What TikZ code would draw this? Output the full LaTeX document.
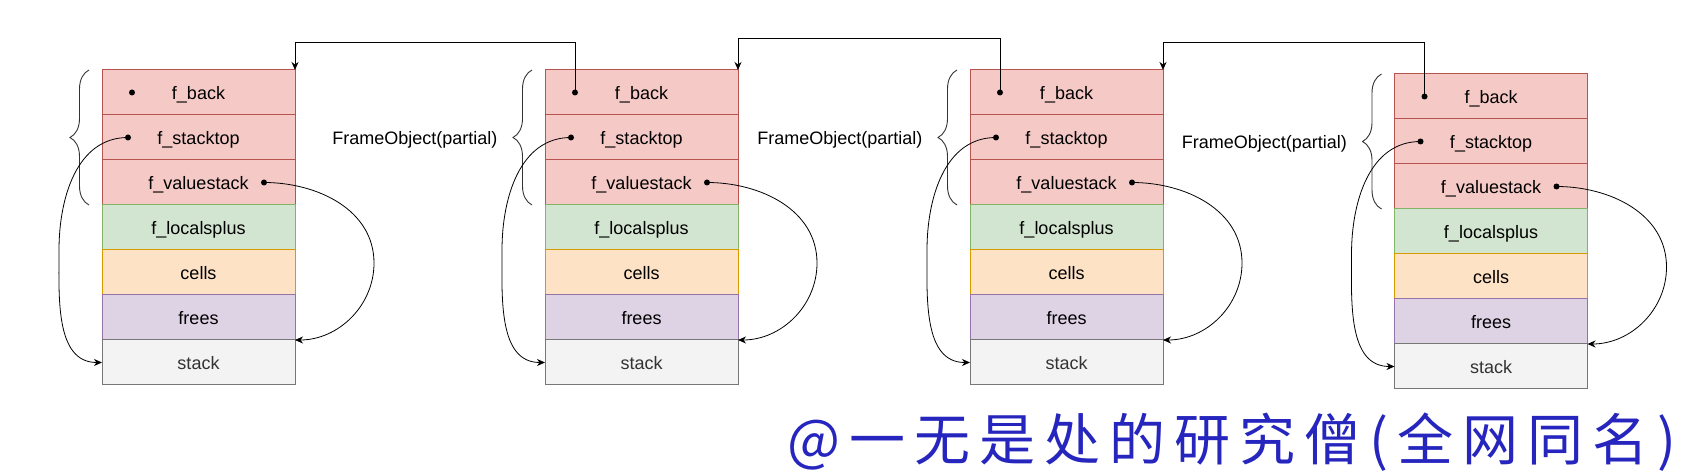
\documentclass[tikz,border=0pt]{standalone}
\usepackage{fontspec}
\setmainfont{Liberation Sans}
\newfontfamily\cjkfont{Noto Sans CJK SC}[LetterSpace=16]
\usepackage{tikz}
\usetikzlibrary{arrows.meta,positioning,decorations.pathreplacing}
\definecolor{redfill}{HTML}{F5C9C6}
\definecolor{redline}{HTML}{B85450}
\definecolor{greenfill}{HTML}{D2E5D0}
\definecolor{greenline}{HTML}{82B366}
\definecolor{orangefill}{HTML}{FDE2C6}
\definecolor{orangeline}{HTML}{D79B00}
\definecolor{purplefill}{HTML}{DED2E5}
\definecolor{purpleline}{HTML}{9673A6}
\definecolor{grayfill}{HTML}{F3F3F3}
\definecolor{grayline}{HTML}{777777}
\definecolor{graytext}{HTML}{333333}
\definecolor{signblue}{RGB}{38,38,190}

\begin{document}
\begin{tikzpicture}[
    x=1pt, y=1pt,
    font=\fontsize{18}{21}\selectfont,
    field/.style={rectangle, line width=1pt, minimum width=193pt,
        minimum height=45pt, inner sep=0pt, outer sep=0pt,
        text height=13.5pt, text depth=0pt},
    redrow/.style={field, fill=redfill, draw=redline},
    greenrow/.style={field, fill=greenfill, draw=greenline},
    orangerow/.style={field, fill=orangefill, draw=orangeline},
    purplerow/.style={field, fill=purplefill, draw=purpleline},
    grayrow/.style={field, fill=grayfill, draw=grayline, text=graytext},
    partlabel/.style={anchor=east, text height=13.5pt, text depth=0pt},
    dot/.style={circle, fill=black, inner sep=0pt, minimum size=6pt},
    ptr/.style={-{Stealth[length=8pt, width=7pt, inset=2.5pt]}, line width=1pt},
    curvedptr/.style={ptr, line width=0.8pt},
    brc/.style={decorate, decoration={brace, amplitude=19pt}, draw=black!80, line width=0.9pt}
]
\useasboundingbox (0,0) rectangle (1691,476);

% frame 1
\node[redrow] (f1back) at (198.5,383.5) {f\_back};
\node[redrow, below=0pt of f1back] (f1top) {f\_stacktop};
\node[redrow, below=0pt of f1top] (f1val) {f\_valuestack};
\node[greenrow, below=0pt of f1val] (f1loc) {f\_localsplus};
\node[orangerow, below=0pt of f1loc] (f1cells) {cells};
\node[purplerow, below=0pt of f1cells] (f1frees) {frees};
\node[grayrow, below=0pt of f1frees] (f1stack) {stack};

% frame 2
\node[redrow] (f2back) at (641.5,383.5) {f\_back};
\node[redrow, below=0pt of f2back] (f2top) {f\_stacktop};
\node[redrow, below=0pt of f2top] (f2val) {f\_valuestack};
\node[greenrow, below=0pt of f2val] (f2loc) {f\_localsplus};
\node[orangerow, below=0pt of f2loc] (f2cells) {cells};
\node[purplerow, below=0pt of f2cells] (f2frees) {frees};
\node[grayrow, below=0pt of f2frees] (f2stack) {stack};

% frame 3
\node[redrow] (f3back) at (1066.5,383.5) {f\_back};
\node[redrow, below=0pt of f3back] (f3top) {f\_stacktop};
\node[redrow, below=0pt of f3top] (f3val) {f\_valuestack};
\node[greenrow, below=0pt of f3val] (f3loc) {f\_localsplus};
\node[orangerow, below=0pt of f3loc] (f3cells) {cells};
\node[purplerow, below=0pt of f3cells] (f3frees) {frees};
\node[grayrow, below=0pt of f3frees] (f3stack) {stack};

% frame 4
\node[redrow] (f4back) at (1491,379.5) {f\_back};
\node[redrow, below=0pt of f4back] (f4top) {f\_stacktop};
\node[redrow, below=0pt of f4top] (f4val) {f\_valuestack};
\node[greenrow, below=0pt of f4val] (f4loc) {f\_localsplus};
\node[orangerow, below=0pt of f4loc] (f4cells) {cells};
\node[purplerow, below=0pt of f4cells] (f4frees) {frees};
\node[grayrow, below=0pt of f4frees] (f4stack) {stack};

% pointer dots
\node[dot] (d1back) at ([xshift=30]f1back.west) {};
\node[dot] (d1top) at ([xshift=26]f1top.west) {};
\node[dot] (d1val) at ([xshift=162]f1val.west) {};
\node[dot] (d2back) at ([xshift=30]f2back.west) {};
\node[dot] (d2top) at ([xshift=26]f2top.west) {};
\node[dot] (d2val) at ([xshift=162]f2val.west) {};
\node[dot] (d3back) at ([xshift=30]f3back.west) {};
\node[dot] (d3top) at ([xshift=26]f3top.west) {};
\node[dot] (d3val) at ([xshift=162]f3val.west) {};
\node[dot] (d4back) at ([xshift=30]f4back.west) {};
\node[dot] (d4top) at ([xshift=26]f4top.west) {};
\node[dot] (d4val) at ([xshift=162]f4val.west) {};

% labels and braces
\node[partlabel] (lbl2) at ([xshift=-44]f2top.west) {FrameObject(partial)};
\node[partlabel] (lbl3) at ([xshift=-44]f3top.west) {FrameObject(partial)};
\node[partlabel] (lbl4) at ([xshift=-44]f4top.west) {FrameObject(partial)};
\draw[brc] ([xshift=-13]f1val.south west) -- ([xshift=-13]f1back.north west);
\draw[brc] ([xshift=-13]f2val.south west) -- ([xshift=-13]f2back.north west);
\draw[brc] ([xshift=-13]f3val.south west) -- ([xshift=-13]f3back.north west);
\draw[brc] ([xshift=-13]f4val.south west) -- ([xshift=-13]f4back.north west);

% f_back links
\draw[ptr] (d2back.center) |- ([yshift=27]f1back.north east) -- (f1back.north east);
\draw[ptr] (d3back.center) |- ([yshift=31]f2back.north east) -- (f2back.north east);
\draw[ptr] (d4back.center) |- ([yshift=27]f3back.north east) -- (f3back.north east);

% stacktop and valuestack curves
\draw[curvedptr] (d1top.center) to[out=180,in=90] ([xshift=-43]f1loc.south west) to[out=-90,in=180] (f1stack.west);
\draw[curvedptr] (d2top.center) to[out=180,in=90] ([xshift=-43]f2loc.south west) to[out=-90,in=180] (f2stack.west);
\draw[curvedptr] (d3top.center) to[out=180,in=90] ([xshift=-43]f3loc.south west) to[out=-90,in=180] (f3stack.west);
\draw[curvedptr] (d4top.center) to[out=180,in=90] ([xshift=-43]f4loc.south west) to[out=-90,in=180] (f4stack.west);
\draw[curvedptr] (d1val.center) to[out=0,in=90] ([shift={(79,-13)}]f1cells.north east) to[out=-90,in=0] (f1frees.south east);
\draw[curvedptr] (d2val.center) to[out=0,in=90] ([shift={(79,-13)}]f2cells.north east) to[out=-90,in=0] (f2frees.south east);
\draw[curvedptr] (d3val.center) to[out=0,in=90] ([shift={(79,-13)}]f3cells.north east) to[out=-90,in=0] (f3frees.south east);
\draw[curvedptr] (d4val.center) to[out=0,in=90] ([shift={(79,-13)}]f4cells.north east) to[out=-90,in=0] (f4frees.south east);

\node[font=\cjkfont\fontsize{56}{56}\selectfont, text=signblue] (sign) at (1232,34) {@一无是处的研究僧(全网同名)};

\end{tikzpicture}
\end{document}
